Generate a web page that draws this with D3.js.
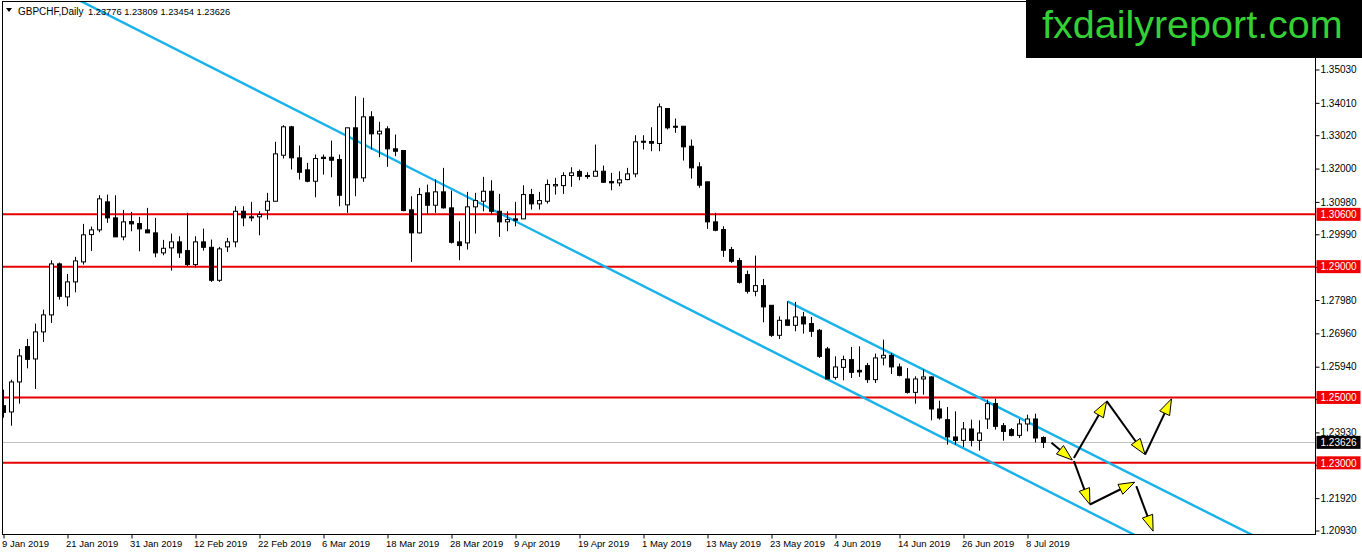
<!DOCTYPE html>
<html>
<head>
<meta charset="utf-8">
<script src="https://cdnjs.cloudflare.com/ajax/libs/d3/7.8.5/d3.min.js"></script>
<style>
  body { margin: 0; background: #fff; }
  svg text { font-family: "Liberation Sans", Arial, sans-serif; }
</style>
</head>
<body>
<svg id="chart" width="1362" height="555"></svg>
<script>
// daily GBPCHF candles, 9 Jan 2019 .. 10 Jul 2019
const opens = [1.24748,1.24556,1.25474,1.26554,1.26177,1.27004,1.27524,1.29084,1.28075,1.28534,
  1.29146,1.29981,1.30125,1.30982,1.30492,1.29911,1.30379,1.30318,1.30125,1.30033,
  1.29421,1.29574,1.29758,1.29491,1.29063,1.29758,1.29592,1.28583,1.29605,1.29758,
  1.30694,1.30523,1.30523,1.30725,1.31000,1.32408,1.33277,1.32328,1.31961,1.31612,
  1.32346,1.32346,1.32276,1.30890,1.33246,1.31716,1.33583,1.33062,1.33215,1.32603,
  1.32551,1.30737,1.30033,1.31257,1.30878,1.31288,1.30798,1.29758,1.29727,1.30829,
  1.31000,1.31306,1.30694,1.30370,1.30461,1.30461,1.31205,1.30920,1.31000,1.31471,
  1.31480,1.31786,1.31909,1.31786,1.31765,1.31918,1.31603,1.31563,1.31664,1.31838,
  1.32836,1.32827,1.32766,1.33837,1.33295,1.33295,1.32683,1.32053,1.31594,1.30370,
  1.30134,1.29522,1.29185,1.28757,1.28246,1.28420,1.27818,1.26900,1.27371,1.27206,
  1.27463,1.27258,1.27053,1.26483,1.25614,1.25920,1.26156,1.25829,1.25972,1.25544,
  1.26208,1.26288,1.25933,1.25565,1.25155,1.25565,1.25627,1.24647,1.24320,1.23791,
  1.23687,1.24035,1.23687,1.24341,1.24810,1.24136,1.24014,1.23840,1.24188,1.24341,
  1.23776];
const highs = [1.25238,1.25544,1.26483,1.26789,1.27258,1.27686,1.29195,1.29124,1.28778,1.29299,
  1.30308,1.30226,1.31184,1.31205,1.31184,1.30737,1.30676,1.30523,1.30798,1.30492,
  1.29819,1.30012,1.29929,1.30645,1.29929,1.30165,1.29828,1.29605,1.29880,1.30847,
  1.30847,1.30982,1.30694,1.31257,1.32818,1.33326,1.33307,1.32704,1.32175,1.32429,
  1.32429,1.32857,1.32429,1.33246,1.34213,1.34164,1.33754,1.33430,1.33295,1.33041,
  1.32551,1.31153,1.31410,1.31511,1.31664,1.32022,1.31327,1.30388,1.31288,1.31257,
  1.31747,1.31643,1.31226,1.30694,1.30982,1.31490,1.31379,1.31288,1.31664,1.31716,
  1.31887,1.32040,1.31970,1.31887,1.32735,1.32092,1.31869,1.31918,1.32022,1.33020,
  1.33020,1.33264,1.33990,1.33837,1.33531,1.33295,1.32888,1.32193,1.31594,1.30645,
  1.30235,1.29605,1.29268,1.28879,1.29338,1.28625,1.27818,1.27481,1.27940,1.27922,
  1.27616,1.27463,1.27095,1.26545,1.26257,1.26278,1.26545,1.26563,1.26055,1.26340,
  1.26768,1.26361,1.26034,1.25902,1.25645,1.25850,1.25645,1.24901,1.24709,1.24574,
  1.24250,1.24320,1.24299,1.24932,1.24963,1.24219,1.24066,1.24341,1.24473,1.24504,
  1.23809];
const lows = [1.24381,1.24136,1.24810,1.25890,1.25259,1.26698,1.27279,1.27992,1.27787,1.28215,
  1.29063,1.29482,1.30051,1.30339,1.29911,1.29807,1.30082,1.29470,1.30033,1.29286,
  1.29348,1.28879,1.29268,1.29011,1.28980,1.29491,1.28534,1.28534,1.29452,1.29592,
  1.30235,1.30388,1.29960,1.30440,1.31000,1.32307,1.31970,1.31664,1.31581,1.31122,
  1.31817,1.31734,1.30847,1.30645,1.31153,1.31594,1.32582,1.32346,1.32053,1.32377,
  1.30694,1.29146,1.30012,1.30624,1.30645,1.30777,1.29706,1.29195,1.29522,1.30012,
  1.30694,1.30593,1.29911,1.30082,1.30235,1.30461,1.30746,1.30746,1.30930,1.31205,
  1.31226,1.31441,1.31643,1.31685,1.31765,1.31563,1.31337,1.31459,1.31643,1.31734,
  1.32582,1.32530,1.32530,1.33194,1.33093,1.32245,1.31695,1.31410,1.30155,1.30082,
  1.29299,1.29115,1.28482,1.28176,1.28093,1.27297,1.26851,1.26789,1.27206,1.27022,
  1.26952,1.26851,1.26208,1.25565,1.25544,1.25523,1.25596,1.25627,1.25443,1.25443,
  1.25982,1.25718,1.25645,1.25116,1.24810,1.25085,1.24299,1.24320,1.23555,1.23555,
  1.23485,1.23503,1.23371,1.24035,1.24014,1.23677,1.23809,1.23760,1.23962,1.23625,
  1.23454];
const closes = [1.24543,1.25474,1.26269,1.26165,1.27004,1.27524,1.29084,1.28093,1.28534,1.29176,
  1.29972,1.30125,1.31073,1.30492,1.29911,1.30370,1.30308,1.30155,1.30033,1.29421,
  1.29562,1.29758,1.29421,1.29063,1.29758,1.29592,1.28583,1.29543,1.29758,1.30694,
  1.30492,1.30492,1.30593,1.31000,1.32450,1.33277,1.32328,1.31887,1.31612,1.32307,
  1.32307,1.32255,1.31184,1.33246,1.31716,1.33583,1.33062,1.33142,1.32603,1.32530,
  1.30715,1.30033,1.31205,1.30878,1.31288,1.30798,1.29745,1.29644,1.30829,1.31021,
  1.31306,1.30694,1.30370,1.30440,1.30419,1.31205,1.30920,1.31021,1.31511,1.31511,
  1.31786,1.31869,1.31765,1.31756,1.31918,1.31581,1.31563,1.31655,1.31838,1.32818,
  1.32805,1.32775,1.33889,1.33246,1.33264,1.32665,1.32022,1.31490,1.30370,1.30113,
  1.29501,1.29164,1.28521,1.28246,1.28420,1.27769,1.26900,1.27359,1.27206,1.27463,
  1.27248,1.27022,1.26257,1.25565,1.25933,1.26156,1.25767,1.25780,1.25544,1.26208,
  1.26288,1.25933,1.25676,1.25155,1.25565,1.25627,1.24647,1.24372,1.23791,1.23687,
  1.24035,1.23687,1.23913,1.24810,1.24115,1.23962,1.23840,1.24188,1.24341,1.23760,
  1.23626];

// one label every 8 bars
const dateLabels = ["9 Jan 2019","21 Jan 2019","31 Jan 2019","12 Feb 2019","22 Feb 2019",
  "6 Mar 2019","18 Mar 2019","28 Mar 2019","9 Apr 2019","19 Apr 2019","1 May 2019",
  "13 May 2019","23 May 2019","4 Jun 2019","14 Jun 2019","26 Jun 2019","8 Jul 2019"];
const priceTicks = [1.35030,1.34010,1.33020,1.32000,1.30980,1.29990,1.28990,1.27980,1.26960,
  1.25940,1.24950,1.23930,1.22940,1.21920,1.20930];
const levels = [1.30600, 1.29000, 1.25000, 1.23000];
const lastPrice = 1.23626;
const headerValues = ["1.23776", "1.23809", "1.23454", "1.23626"];

// trend lines, [bar, price]
const mainTrend = [[10, 1.37080], [140, 1.20967]];
const channelTrend = [[98, 1.27940], [155, 1.20927]];

// projected path arrows, [bar, price] -> [bar, price]
const arrows = [
  [[131.0, 1.23612], [133.6, 1.23086]],
  [[133.8, 1.23150], [137.9, 1.24885]],
  [[137.9, 1.24885], [142.7, 1.23254]],
  [[142.7, 1.23254], [146.0, 1.24958]],
  [[133.8, 1.23050], [135.8, 1.21725]],
  [[135.8, 1.21725], [141.4, 1.22407]],
  [[141.6, 1.22285], [143.7, 1.20909]]
];

const svg = d3.select("#chart");
const plotL = 2.5, plotR = 1315.5, plotT = 1.5, plotB = 534.5;

const x = d3.scaleLinear().domain([0, 164]).range([3.5, 1315.5]);
const y = d3.scaleLinear().domain([1.20930, 1.35030]).range([530.5, 69.5]);

svg.append("rect").attr("width", 1362).attr("height", 555).attr("fill", "#fff");

svg.append("defs").append("clipPath").attr("id", "plot")
  .append("rect")
  .attr("x", plotL + 0.5).attr("y", plotT + 0.5)
  .attr("width", plotR - plotL - 1).attr("height", plotB - plotT - 1);

const plot = svg.append("g").attr("clip-path", "url(#plot)");

// horizontal levels
plot.selectAll(".level").data(levels).enter().append("line")
  .attr("x1", plotL).attr("x2", plotR)
  .attr("y1", d => y(d)).attr("y2", d => y(d))
  .attr("stroke", "#e60000").attr("stroke-width", 2);

plot.append("line")
  .attr("x1", plotL).attr("x2", plotR)
  .attr("y1", Math.round(y(lastPrice)) + 0.5).attr("y2", Math.round(y(lastPrice)) + 0.5)
  .attr("stroke", "#c0c0c0").attr("stroke-width", 1);

// trend lines (extended as rays)
function ray(pts, fromStart) {
  const [a, b] = pts;
  const slope = (b[1] - a[1]) / (b[0] - a[0]);
  const x0 = fromStart ? 0 : a[0];
  const x1 = 164;
  return [[x0, a[1] + (x0 - a[0]) * slope], [x1, a[1] + (x1 - a[0]) * slope]];
}
const lineGen = d3.line().x(d => x(d[0])).y(d => y(d[1]));

plot.append("path").attr("d", lineGen(ray(mainTrend, true)))
  .attr("fill", "none").attr("stroke", "#1ab2ea").attr("stroke-width", 2.4);
plot.append("path").attr("d", lineGen(ray(channelTrend, false)))
  .attr("fill", "none").attr("stroke", "#1ab2ea").attr("stroke-width", 2.4);

// candles
const candles = d3.range(opens.length);
const candle = plot.selectAll(".candle").data(candles).enter().append("g");

candle.append("line")
  .attr("x1", i => x(i)).attr("x2", i => x(i))
  .attr("y1", i => y(highs[i])).attr("y2", i => y(lows[i]))
  .attr("stroke", "#000").attr("stroke-width", 1);

candle.append("rect")
  .attr("x", i => x(i) - 2)
  .attr("width", 4)
  .attr("y", i => y(Math.max(opens[i], closes[i])))
  .attr("height", i => Math.max(1, Math.abs(y(opens[i]) - y(closes[i]))))
  .attr("fill", i => closes[i] >= opens[i] ? "#fff" : "#000")
  .attr("stroke", "#000").attr("stroke-width", 1);

// arrows
arrows.forEach(([a, b]) => {
  const ax = x(a[0]), ay = y(a[1]), bx = x(b[0]), by = y(b[1]);
  const len = Math.hypot(bx - ax, by - ay);
  const ux = (bx - ax) / len, uy = (by - ay) / len;
  plot.append("line")
    .attr("x1", ax).attr("y1", ay).attr("x2", bx - ux * 4).attr("y2", by - uy * 4)
    .attr("stroke", "#000").attr("stroke-width", 2);
  const hl = 16, hw = 5.5;
  const baseX = bx - ux * hl, baseY = by - uy * hl;
  const pts = [[bx, by], [baseX - uy * hw, baseY + ux * hw], [baseX + uy * hw, baseY - ux * hw]];
  plot.append("polygon")
    .attr("points", pts.map(p => p.join(",")).join(" "))
    .attr("fill", "#ffff00").attr("stroke", "#000").attr("stroke-width", 1);
});

// frame
svg.append("rect")
  .attr("x", plotL).attr("y", plotT)
  .attr("width", plotR - plotL).attr("height", plotB - plotT)
  .attr("fill", "none").attr("stroke", "#000").attr("stroke-width", 1);

// price axis
const yAxis = d3.axisRight(y)
  .tickValues(priceTicks)
  .tickSize(4)
  .tickPadding(1)
  .tickFormat(d3.format(".5f"));
const yg = svg.append("g").attr("transform", `translate(${plotR},0)`).call(yAxis);
yg.select(".domain").remove();
yg.selectAll("text").attr("font-size", "10px").attr("font-family", "Liberation Sans, Arial, sans-serif").attr("fill", "#000");
yg.selectAll("line").attr("stroke", "#000");

// date axis
const xAxis = d3.axisBottom(x)
  .tickValues(dateLabels.map((d, i) => i * 8))
  .tickSize(4)
  .tickFormat((d, i) => dateLabels[i]);
const xg = svg.append("g").attr("transform", `translate(0,${plotB})`).call(xAxis);
xg.select(".domain").remove();
xg.selectAll("text")
  .attr("font-size", "9.5px").attr("font-family", "Liberation Sans, Arial, sans-serif")
  .attr("fill", "#000").attr("text-anchor", "start").attr("dx", "-2px").attr("y", 6);
xg.selectAll("line").attr("stroke", "#000");

// price tags
function tag(price, color) {
  const cy = y(price);
  svg.append("rect")
    .attr("x", plotR + 1).attr("y", cy - 6.5)
    .attr("width", 44).attr("height", 13)
    .attr("fill", color);
  svg.append("text")
    .attr("x", plotR + 5).attr("y", cy + 3.7)
    .attr("font-size", "10px").attr("fill", "#fff")
    .text(d3.format(".5f")(price));
}
levels.forEach(p => tag(p, "#f00000"));
tag(lastPrice, "#000");

// header
svg.append("path").attr("d", "M6,8 L12,8 L9,12 Z").attr("fill", "#000");
svg.append("text")
  .attr("x", 18).attr("y", 15)
  .attr("font-size", "10px").attr("fill", "#000")
  .text("GBPCHF,Daily");
svg.append("text")
  .attr("x", 88).attr("y", 15)
  .attr("font-size", "9.3px").attr("fill", "#000")
  .text(headerValues.join(" "));

// logo
svg.append("rect").attr("x", 1026).attr("y", 0).attr("width", 336).attr("height", 58).attr("fill", "#000");
svg.append("text")
  .attr("x", 1042).attr("y", 38)
  .attr("font-size", "39.5px").attr("fill", "#35d035")
  .text("fxdailyreport.com");
</script>
</body>
</html>
